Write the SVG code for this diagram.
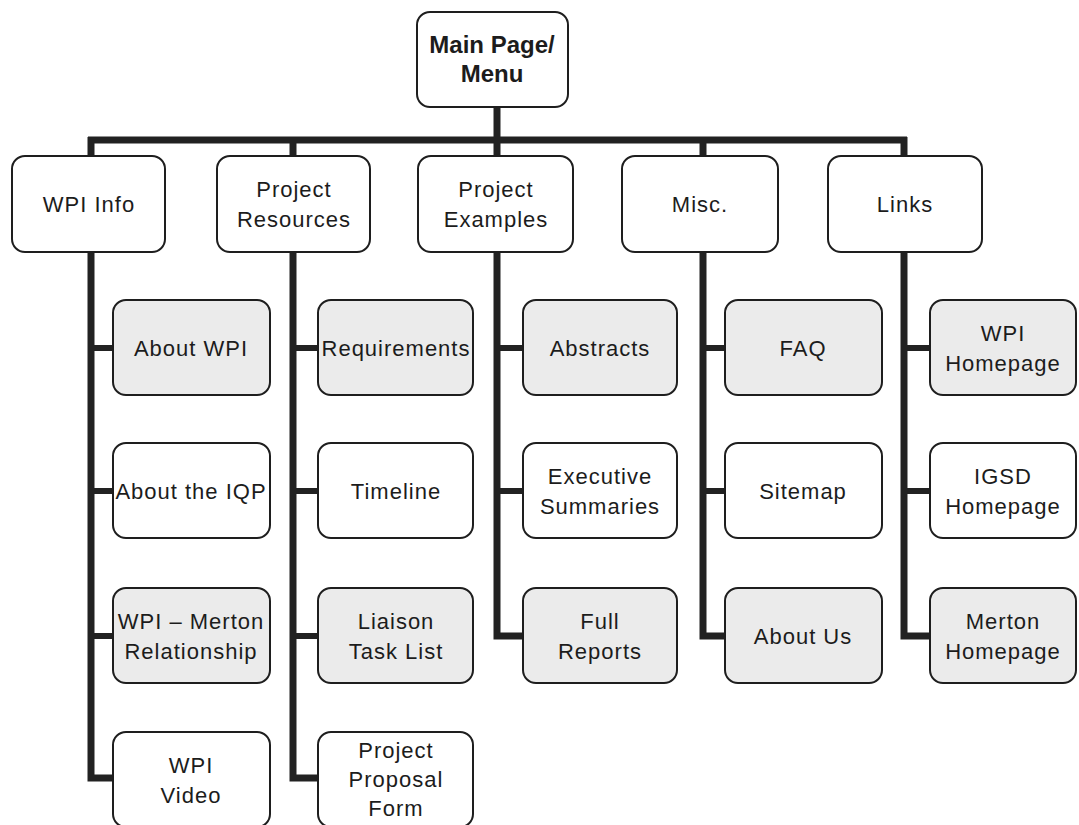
<svg xmlns="http://www.w3.org/2000/svg" width="1079" height="825" viewBox="0 0 1079 825">
<style>
.box{fill:#ffffff;stroke:#1e1e1e;stroke-width:2}
.g{fill:#ebebeb}
.t{font-family:"Liberation Sans",Arial,sans-serif;font-size:22px;letter-spacing:1px;fill:#1c1c1c;text-anchor:middle}
.b{font-family:"Liberation Sans",Arial,sans-serif;font-size:24px;font-weight:bold;fill:#1c1c1c;text-anchor:middle}
.bus{stroke:#222;stroke-width:7;fill:none}
.br{stroke:#222;stroke-width:6;fill:none}
</style>
<rect width="1079" height="825" fill="#ffffff"/>
<g id="connectors">
<line class="bus" x1="497" y1="107" x2="497" y2="140"/>
<line class="bus" x1="88" y1="140" x2="907" y2="140"/>
<polyline class="bus" points="91,137 91,778 113,778"/>
<polyline class="bus" points="293,137 293,778 318,778"/>
<polyline class="bus" points="497,137 497,636 523,636"/>
<polyline class="bus" points="703,137 703,636 725,636"/>
<polyline class="bus" points="904,137 904,636 930,636"/>
<line class="br" x1="91" y1="348" x2="113" y2="348"/>
<line class="br" x1="91" y1="491" x2="113" y2="491"/>
<line class="br" x1="91" y1="636" x2="113" y2="636"/>
<line class="br" x1="293" y1="348" x2="318" y2="348"/>
<line class="br" x1="293" y1="491" x2="318" y2="491"/>
<line class="br" x1="293" y1="636" x2="318" y2="636"/>
<line class="br" x1="497" y1="348" x2="523" y2="348"/>
<line class="br" x1="497" y1="491" x2="523" y2="491"/>
<line class="br" x1="703" y1="348" x2="725" y2="348"/>
<line class="br" x1="703" y1="491" x2="725" y2="491"/>
<line class="br" x1="904" y1="348" x2="930" y2="348"/>
<line class="br" x1="904" y1="491" x2="930" y2="491"/>
</g>
<g id="main"><rect class="box" x="417" y="12" width="151" height="95" rx="13"/><text class="b" x="492" y="53">Main Page/</text><text class="b" x="492" y="82">Menu</text></g>
<g id="wpi-info"><rect class="box" x="12" y="156" width="153" height="96" rx="13"/><text class="t" x="89" y="212">WPI Info</text></g>
<g id="project-resources"><rect class="box" x="217" y="156" width="153" height="96" rx="13"/><text class="t" x="294" y="197">Project</text><text class="t" x="294" y="227">Resources</text></g>
<g id="project-examples"><rect class="box" x="418" y="156" width="155" height="96" rx="13"/><text class="t" x="496" y="197">Project</text><text class="t" x="496" y="227">Examples</text></g>
<g id="misc"><rect class="box" x="622" y="156" width="156" height="96" rx="13"/><text class="t" x="700" y="212">Misc.</text></g>
<g id="links"><rect class="box" x="828" y="156" width="154" height="96" rx="13"/><text class="t" x="905" y="212">Links</text></g>
<g id="about-wpi"><rect class="box g" x="113" y="300" width="157" height="95" rx="13"/><text class="t" x="191" y="356">About WPI</text></g>
<g id="about-iqp"><rect class="box" x="113" y="443" width="157" height="95" rx="13"/><text class="t" x="191" y="499">About the IQP</text></g>
<g id="wpi-merton"><rect class="box g" x="113" y="588" width="157" height="95" rx="13"/><text class="t" x="191" y="629">WPI – Merton</text><text class="t" x="191" y="659">Relationship</text></g>
<g id="wpi-video"><rect class="box" x="113" y="732" width="157" height="95" rx="13"/><text class="t" x="191" y="773">WPI</text><text class="t" x="191" y="803">Video</text></g>
<g id="requirements"><rect class="box g" x="318" y="300" width="155" height="95" rx="13"/><text class="t" x="396" y="356">Requirements</text></g>
<g id="timeline"><rect class="box" x="318" y="443" width="155" height="95" rx="13"/><text class="t" x="396" y="499">Timeline</text></g>
<g id="liaison"><rect class="box g" x="318" y="588" width="155" height="95" rx="13"/><text class="t" x="396" y="629">Liaison</text><text class="t" x="396" y="659">Task List</text></g>
<g id="proposal"><rect class="box" x="318" y="732" width="155" height="95" rx="13"/><text class="t" x="396" y="758">Project</text><text class="t" x="396" y="787">Proposal</text><text class="t" x="396" y="816">Form</text></g>
<g id="abstracts"><rect class="box g" x="523" y="300" width="154" height="95" rx="13"/><text class="t" x="600" y="356">Abstracts</text></g>
<g id="exec-summaries"><rect class="box" x="523" y="443" width="154" height="95" rx="13"/><text class="t" x="600" y="484">Executive</text><text class="t" x="600" y="514">Summaries</text></g>
<g id="full-reports"><rect class="box g" x="523" y="588" width="154" height="95" rx="13"/><text class="t" x="600" y="629">Full</text><text class="t" x="600" y="659">Reports</text></g>
<g id="faq"><rect class="box g" x="725" y="300" width="157" height="95" rx="13"/><text class="t" x="803" y="356">FAQ</text></g>
<g id="sitemap"><rect class="box" x="725" y="443" width="157" height="95" rx="13"/><text class="t" x="803" y="499">Sitemap</text></g>
<g id="about-us"><rect class="box g" x="725" y="588" width="157" height="95" rx="13"/><text class="t" x="803" y="644">About Us</text></g>
<g id="wpi-homepage"><rect class="box g" x="930" y="300" width="146" height="95" rx="13"/><text class="t" x="1003" y="341">WPI</text><text class="t" x="1003" y="371">Homepage</text></g>
<g id="igsd-homepage"><rect class="box" x="930" y="443" width="146" height="95" rx="13"/><text class="t" x="1003" y="484">IGSD</text><text class="t" x="1003" y="514">Homepage</text></g>
<g id="merton-homepage"><rect class="box g" x="930" y="588" width="146" height="95" rx="13"/><text class="t" x="1003" y="629">Merton</text><text class="t" x="1003" y="659">Homepage</text></g>
</svg>
